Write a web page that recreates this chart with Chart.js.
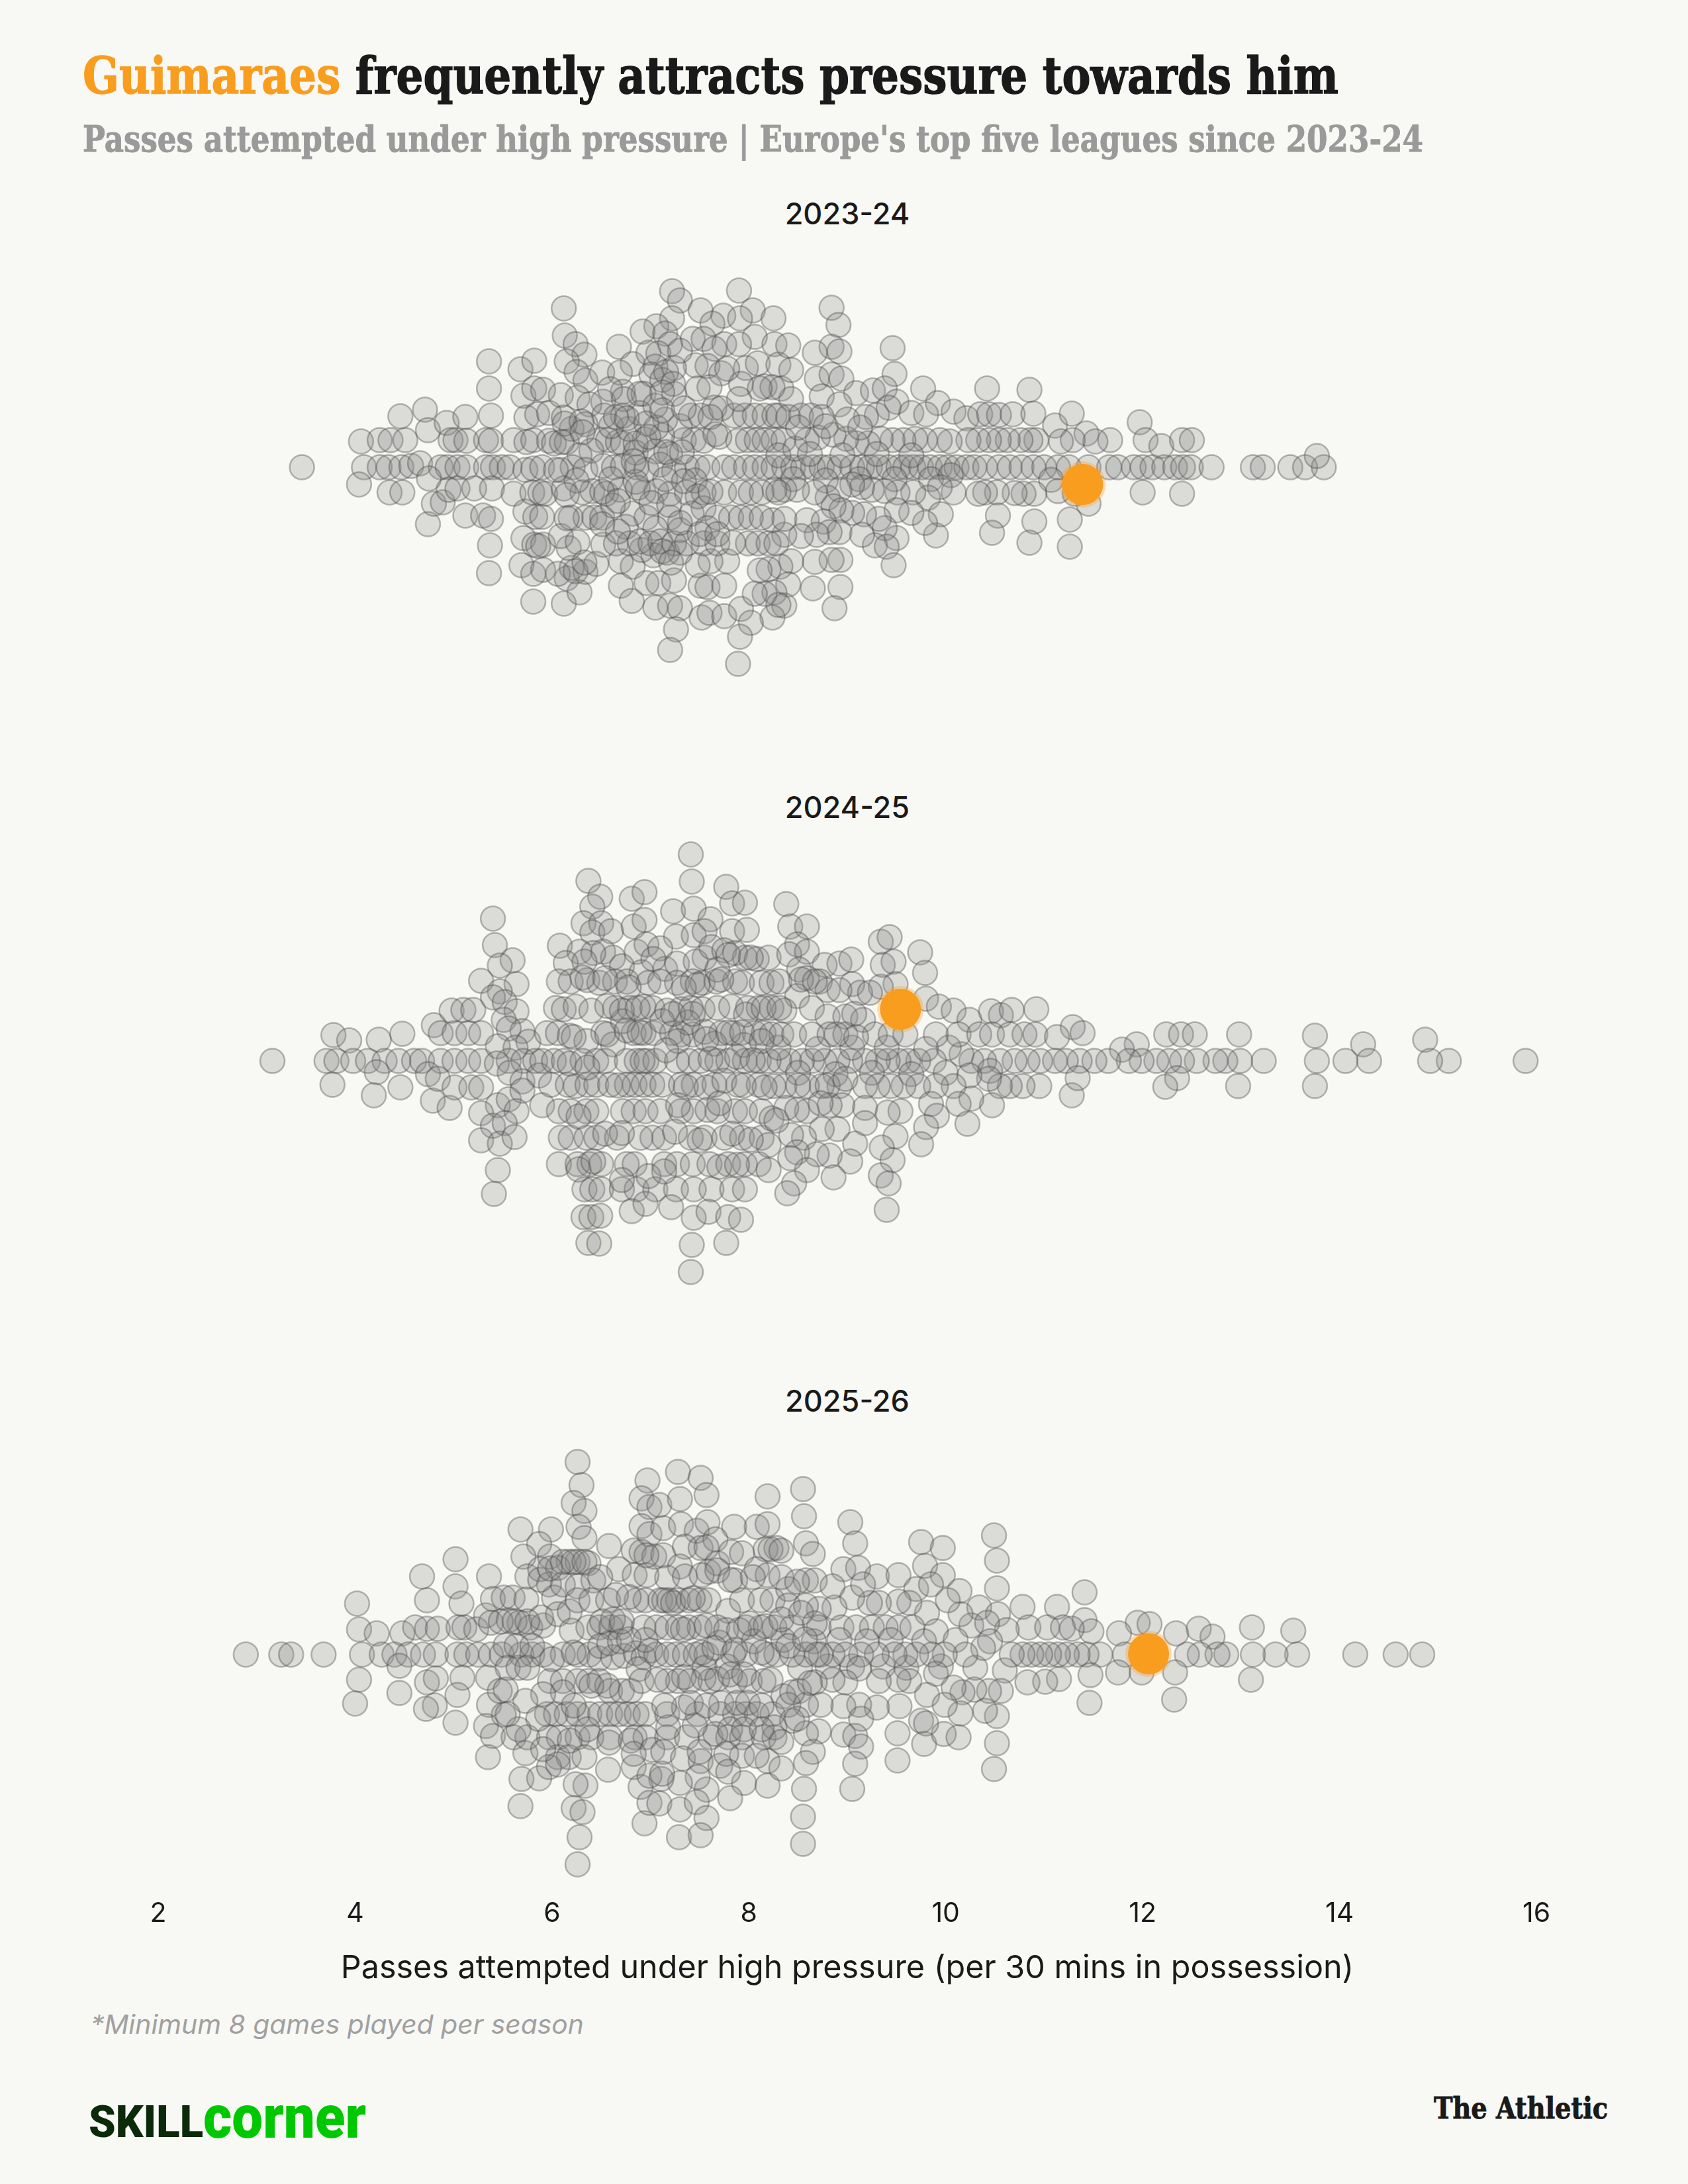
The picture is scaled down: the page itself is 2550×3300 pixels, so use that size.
<!DOCTYPE html>
<html>
<head>
<meta charset="utf-8">
<script src="https://cdn.jsdelivr.net/npm/chart.js@4/dist/chart.umd.js"></script>
<style>
html, body { margin: 0; padding: 0; background: #F8F8F4; }
#page { position: relative; width: 2550px; height: 3300px; overflow: hidden; background: #F8F8F4; }
#page canvas { position: absolute; left: 139px; }
.txt { position: absolute; white-space: nowrap; transform-origin: left top; line-height: 1; }
.season { position: absolute; left: 0; width: 2560px; text-align: center; font: 500 45px Inter, sans-serif; color: #1a1a1a; line-height: 1; }
</style>
</head>
<body>
<div id="page">
  <div class="txt fit" data-w="1897" style="left:125px;top:70px;font:bold 76px 'DejaVu Serif';color:#1a1a1a;-webkit-text-stroke:1.5px #1a1a1a"><span style="color:#F99D1F;-webkit-text-stroke:1.5px #F99D1F">Guimaraes</span> frequently attracts pressure towards him</div>
  <div class="txt fit" data-w="2025" style="left:125px;top:178px;font:bold 54px 'DejaVu Serif';color:#9a9a9a;-webkit-text-stroke:1px #9a9a9a">Passes attempted under high pressure | Europe's top five leagues since 2023-24</div>
  <div class="season" style="top:300px">2023-24</div>
  <div class="season" style="top:1197px">2024-25</div>
  <div class="season" style="top:2094px">2025-26</div>
  <canvas id="swarm2324" style="top:361px"></canvas>
  <canvas id="swarm2425" style="top:1258px"></canvas>
  <canvas id="swarm2526" style="top:2155px"></canvas>
  <div class="txt fit" data-w="745" style="left:137px;top:3035px;font:italic 39px Inter, sans-serif;color:#a0a0a0">*Minimum 8 games played per season</div>
  <div class="txt fit" data-w="173" style="left:134px;top:3167px;font:900 67px Roboto, sans-serif;color:#0a2a0a">SKILL</div>
  <div class="txt fit" data-w="246" style="left:307px;top:3147px;font:900 90px Roboto, sans-serif;color:#00c800">corner</div>
  <div class="txt fit" data-w="263" style="left:2166px;top:3160px;font:bold 44px 'DejaVu Serif';color:#1a1a1a;-webkit-text-stroke:1px #1a1a1a">The Athletic</div>
</div>
<script>
const xTicks = [2, 4, 6, 8, 10, 12, 14, 16];
const axisLabel = 'Passes attempted under high pressure (per 30 mins in possession)';

// Guimaraes in each season: [passes, swarm offset]
const guimaraes2324 = [[11.39, -26]];
const guimaraes2425 = [[9.54, 78]];
const guimaraes2526 = [[12.06, 1]];

// everyone else: [passes, swarm offset]
const players2324 = [
[3.46,0],[4.06,39],[4.09,0],[4.04,-26],[4.25,41],[4.36,41],[4.51,41],[4.46,77],[4.71,87],[4.74,56],[4.93,67],[5.12,76],
[5.36,160],[5.36,119],[5.38,78],[5.68,148],[5.82,161],[5.71,108],[5.82,119],[5.91,117],[5.74,75],[5.85,80],[5.97,82],
[6.12,240],[6.13,199],[6.24,186],[6.33,170],[6.15,160],[6.25,144],[6.34,131],[6.51,143],[6.68,182],[6.82,156],[6.69,143],
[7.22,266],[7.30,252],[7.51,237],[7.90,267],[7.74,229],[8.04,237],[7.91,225],[8.25,225],[7.22,225],[7.06,213],[6.92,205],
[7.15,202],[7.63,217],[7.43,194],[7.54,194],[7.75,186],[8.06,197],[7.90,186],[8.26,186],[7.20,186],[6.98,173],[7.08,172],
[7.65,179],[7.46,154],[7.58,153],[7.24,150],[7.05,152],[7.97,150],[8.09,157],[8.30,155],[7.72,142],[7.01,140],[7.12,132],
[7.48,119],[7.92,126],[8.16,122],[8.33,119],[7.60,121],[7.24,111],[6.93,111],[6.72,114],[6.52,99],[6.09,109],[6.26,105],[6.38,95],
// row +1
[4.97,41],[5.02,41],[5.13,40],[5.33,41],[5.38,40],[5.61,41],[5.74,38],[5.81,41],[5.97,40],[6.02,36],[6.15,38],[6.48,41],[6.57,41],[6.67,38],[6.72,36],
[6.94,42],[7.34,41],[7.44,41],[7.54,40],[7.66,50],[7.89,40],[7.99,41],[8.08,41],[8.16,41],[8.25,41],
[6.85,22],[6.40,25],[6.28,18],[7.05,24],[7.20,20],[7.12,48],[6.78,58],[6.60,62],[6.20,58],[7.30,62],
// row 0
[4.25,0],[4.34,0],[4.47,0],[4.57,2],[4.66,6],[4.87,0],[4.94,0],[5.04,0],[5.13,0],[5.33,0],[5.40,0],[5.49,0],[5.57,0],[5.73,-4],[5.81,-2],[5.90,0],
[6.09,-4],[6.21,0],[6.34,-4],[6.52,2],[6.63,0],[6.72,2],[6.86,0],[6.96,-4],[7.10,4],[7.24,-6],[7.37,0],[7.48,0],[7.58,0],[7.75,0],[7.85,0],[7.97,0],
[8.06,0],[8.16,0],[8.25,0],[8.28,0],[8.36,0],[8.45,0],[8.55,0],[8.65,0],[8.74,0],[8.82,0],[8.92,0],[9.05,0],[9.15,0],[9.23,0],[9.32,0],[9.42,0],[9.52,0],
[9.59,0],[9.67,0],[9.75,0],[9.84,0],[9.94,0],[10.02,0],[10.11,0],[10.21,0],[10.29,0],[10.40,0],[10.54,0],[10.65,0],[10.77,0],[10.89,0],[11.00,0],[11.14,0],
[11.25,0],[11.45,0],[11.66,0],[11.75,0],[11.91,0],[12.00,0],[12.10,0],[12.22,0],[12.33,0],[12.41,0],[12.49,0],[12.70,0],[13.12,0],[13.22,0],[13.50,0],[13.65,0],[13.84,0],[13.77,17],
// row +2 and up on the right
[7.85,78],[7.96,78],[8.06,78],[8.16,78],[8.26,78],[7.41,78],[7.51,78],[7.65,90],[7.15,72],[6.89,82],[6.72,78],[6.53,78],[6.34,65],[6.12,75],[7.06,60],
[8.84,241],[8.91,215],[9.46,180],[9.48,141],[8.84,182],[8.92,175],[8.67,173],[8.26,188],[8.40,184],[8.33,160],[8.43,147],[8.69,134],[8.84,140],[8.94,134],
[9.77,119],[10.42,119],[10.85,117],[9.09,112],[9.26,116],[9.38,119],[9.92,97],[9.50,99],[8.74,107],[8.92,95],[8.43,103],[8.37,121],[8.24,121],[10.08,84],
[9.65,82],[9.80,80],[9.42,90],[9.30,79],[9.19,76],[10.21,74],[10.35,80],[10.44,80],[10.54,79],[10.68,80],[10.89,81],[11.11,63],[11.28,81],[11.97,68],
[12.03,41],[12.19,32],[12.40,41],[12.50,41],[11.67,41],[11.43,51],[11.52,39],[11.29,41],[11.17,39],[10.92,41],[10.86,41],[10.76,41],[10.63,41],[10.54,41],
[10.44,41],[10.33,41],[10.23,41],[10.04,39],[9.94,41],[9.79,41],[9.69,43],[9.57,41],[9.46,41],[9.34,43],[9.21,36],[9.09,36],[8.99,43],[8.86,49],[8.70,45],[8.59,41],[8.47,28],
[8.20,78],[8.30,78],[8.40,76],[8.53,78],[8.63,78],[8.74,76],[8.35,41],[8.28,41],[8.50,60],[8.78,62],[9.00,72],[9.13,60],
[8.30,18],[8.45,-18],[8.62,20],[8.78,-20],[8.95,18],[9.12,-18],[9.30,20],[9.48,-18],[9.65,18],[9.85,-18],[10.05,-12],
// row -1 right
[12.00,-38],[12.40,-40],[11.45,-55],[11.31,-40],[11.07,-19],[11.14,-36],[10.90,-40],[10.79,-40],[10.70,-39],[10.52,-38],[10.40,-38],[10.33,-40],[10.08,-38],
[9.94,-30],[9.82,-46],[9.67,-38],[9.51,-38],[9.38,-36],[9.25,-34],[9.15,-30],[9.05,-26],[8.92,-34],[8.80,-46],[8.67,-38],[8.49,-34],[8.36,-34],[8.26,-34],
[10.53,-73],[10.47,-99],[10.90,-82],[10.85,-114],[11.26,-79],[11.26,-120],[9.90,-103],[9.95,-71],[9.79,-84],[9.65,-69],[9.50,-65],[9.50,-107],[9.38,-92],
[9.28,-118],[9.40,-120],[9.47,-148],[9.32,-78],[9.17,-71],[9.05,-69],[8.94,-65],[8.86,-59],[8.59,-80],[8.76,-82],[8.92,-98],[8.82,-98],[9.15,-102],[8.69,-102],
[8.53,-104],[8.36,-102],[8.24,-80],[8.36,-78],[8.93,-140],[8.84,-140],[8.67,-143],[8.43,-142],[8.32,-150],[8.20,-154],[8.93,-181],[8.65,-183],[8.87,-213],
[8.40,-177],[8.26,-189],[8.36,-209],[8.24,-227],[8.16,-191],
// left and lower part
[4.35,-38],[4.48,-38],[4.74,-86],[4.80,-55],[4.89,-53],[4.75,-17],[4.95,-34],[5.12,-73],[5.30,-73],[5.38,-78],[5.37,-118],[5.36,-160],[5.04,-32],[5.21,-32],
[5.39,-32],[5.61,-40],[5.73,-67],[5.83,-75],[5.90,-75],[5.71,-107],[5.82,-117],[5.91,-117],[5.69,-148],[5.81,-161],[5.91,-155],[5.81,-203],[6.12,-206],
[6.15,-168],[6.28,-189],[6.34,-158],[6.20,-152],[6.45,-146],[6.17,-122],[6.09,-104],[6.26,-113],[6.52,-117],[6.70,-142],[6.70,-179],[6.81,-202],[6.82,-150],
[6.96,-175],[7.08,-175],[7.24,-171],[7.05,-212],[7.20,-209],[7.30,-213],[7.26,-245],[7.20,-276],[7.52,-227],[7.60,-220],[7.75,-225],[7.92,-214],[8.02,-235],
[7.91,-256],[7.89,-297],[8.23,-227],[7.51,-179],[7.58,-181],[7.75,-179],[8.06,-191],[8.13,-196],[8.30,-208],[8.11,-156],[7.78,-142],[7.61,-142],[7.48,-148],
[7.30,-129],[7.17,-129],[7.03,-133],[6.91,-125],
// row -1
[5.80,-38],[5.88,-38],[5.93,-40],[6.12,-32],[6.31,-38],[6.41,-36],[6.55,-40],[6.69,-34],[6.93,-38],[7.06,-36],[7.20,-40],[7.37,-38],[7.54,-38],[7.75,-38],
[7.92,-38],[8.02,-38],[8.13,-38],[8.23,-38],[8.30,-38],[6.25,-20],[6.60,-18],[6.85,-22],[7.15,-18],[7.45,-20],
// row -2
[6.19,-76],[6.34,-76],[6.43,-76],[6.51,-76],[6.82,-70],[6.96,-76],[7.20,-76],[7.54,-62],[7.68,-76],[7.82,-76],[7.92,-76],[8.02,-76],[8.13,-76],[8.23,-76],
[6.62,-58],[6.75,-90],[7.05,-92],[7.30,-95],[7.42,-70],[7.58,-92],
// row -3
[6.65,-115],[6.79,-115],[6.89,-112],[7.00,-115],[7.10,-112],[7.24,-115],[7.37,-115],[7.54,-115],[7.68,-115],[7.99,-115],[8.09,-115],[8.20,-115],[8.28,-115],
// dense centre
[6.97,173],[7.10,173],[7.01,134],[7.16,144],[7.23,126],[7.30,176],[7.44,189],[7.63,179],[7.48,154],[7.75,186],[6.59,118],[6.73,103],[6.89,111],[7.05,93],[7.12,113],[7.25,109],[7.47,116],[7.59,116],
[7.78,149],[7.97,149],[8.11,158],[6.11,104],[6.27,103],[5.85,118],[5.83,81],[5.95,81],[6.13,66],[6.30,69],[6.39,91],[6.51,93],[6.65,76],[6.76,74],[6.96,66],[7.12,86],[7.34,89],[7.54,79],[7.72,89],
[7.90,103],[8.11,119],[8.24,121],[8.43,106],[5.84,36],[5.97,39],[6.10,38],[6.31,53],[6.51,39],[6.67,36],[6.85,36],[6.98,46],[7.12,53],[7.30,66],[7.41,73],[7.61,76],[5.83,-1],[6.04,-4],[6.20,-1],
[6.36,-1],[6.54,36],[6.65,3],[6.83,9],[6.96,-1],[7.16,23],[7.32,23],[7.45,39],[7.57,43],[7.70,46],[5.88,-42],[6.15,-42],[6.33,-44],[6.51,-37],[6.67,-51],[6.87,-31],[7.01,-54],[7.16,-24],[7.34,-21],
[7.48,3],[7.57,3],[5.91,-81],[6.15,-77],[6.33,-81],[6.51,-86],[6.67,-97],[6.85,-71],[7.03,-91],[7.19,-57],[7.30,-84],[7.48,-44],[7.61,-37],[7.68,-74],[5.86,-119],[6.06,-104],[6.27,-114],[6.51,-117],
[6.67,-141],[6.80,-111],[6.94,-124],[7.12,-127],[7.30,-131],[7.50,-101],[7.68,-101],[7.84,-114],[5.84,-156],[6.06,-161],[6.24,-157],[6.33,-144],[6.83,-151],[7.03,-137],[7.21,-144],[7.52,-144],[7.63,-141],[7.77,-141]
];

const players2425 = [
[3.16,0],[3.78,39],[3.94,31],[4.24,32],[4.48,41],[3.71,0],[3.81,0],[3.98,0],[4.13,0],[4.30,0],[4.44,0],[4.60,0],[4.68,0],[4.87,0],[5.01,0],[5.15,0],[5.28,0],
[4.22,-17],[3.77,-36],[4.19,-52],[4.46,-40],[4.74,-20],[4.79,-60],[4.96,-71],[4.84,-27],[5.01,-40],[5.18,-40],[5.28,-40],[4.80,54],[4.87,42],[5.01,42],[5.15,42],
[5.28,42],[4.98,76],[5.10,77],[5.20,77],[5.40,215],[5.42,175],[5.60,152],[5.47,144],[5.28,121],[5.64,116],[5.47,105],[5.40,96],[5.52,89],[5.64,75],[5.51,62],
[5.70,45],[5.56,49],[5.76,29],[5.45,22],[5.63,20],[5.56,0],[5.71,0],[5.83,0],[5.44,-4],[5.57,-18],[5.70,-31],[5.87,-22],[5.45,-67],[5.56,-58],[5.70,-45],[5.64,-76],
[5.28,-79],[5.40,-98],[5.52,-94],[5.28,-120],[5.47,-125],[5.62,-115],[5.45,-165],[5.41,-201],[5.90,-67],
[6.08,174],[6.37,272],[6.49,248],[6.41,233],[6.32,208],[6.50,208],[6.41,194],[6.60,196],[6.81,245],[6.94,255],[6.83,203],[6.94,213],[7.23,226],[7.41,312],[7.42,271],
[7.44,230],[7.61,214],[7.77,263],[7.83,238],[7.96,239],[7.26,188],[7.44,190],[7.55,196],[7.83,196],[7.98,198],[6.28,165],[6.52,165],[6.14,148],[6.62,156],[6.86,165],
[6.96,176],[7.10,170],[6.71,143],[6.91,134],[7.15,139],[7.03,154],[7.27,147],[7.55,156],[7.46,150],[7.62,172],[7.75,167],[7.96,156],[7.86,163],[8.08,154],
// row +3
[6.07,120],[6.19,120],[6.36,122],[6.48,118],[6.64,120],[6.76,120],[6.98,118],[7.27,118],[7.43,120],[7.53,118],[7.67,120],[7.86,120],[7.93,118],[8.13,118],
// row +2
[6.04,80],[6.12,78],[6.24,82],[6.40,76],[6.64,80],[6.79,80],[6.93,82],[7.02,80],[7.17,76],[7.31,78],[7.41,80],[7.53,78],[7.68,80],[7.82,82],[7.99,80],[8.10,80],
// row +1
[5.95,42],[6.06,42],[6.18,38],[6.52,42],[6.83,42],[6.93,42],[7.03,42],[7.22,42],[7.31,40],[7.43,40],[7.55,44],[7.72,42],[7.84,42],[8.06,42],[8.15,42],
[6.35,30],[6.62,25],[6.72,60],[7.12,60],[7.38,58],[7.65,26],[7.95,24],
// row 0
[5.90,0],[6.02,0],[6.12,0],[6.31,0],[6.45,0],[6.54,0],[6.76,0],[6.86,0],[6.96,0],[7.05,0],[7.27,0],[7.39,0],[7.51,0],[7.68,0],[7.79,0],[7.96,0],[8.10,0],
// row -1
[5.99,-36],[6.16,-36],[6.24,-38],[6.36,-36],[6.45,-36],[6.59,-36],[6.76,-36],[6.84,-36],[6.93,-36],[7.02,-36],[7.12,-36],[7.31,-36],[7.44,-36],[7.65,-36],[7.89,-36],[8.10,-36],
// row -2
[6.07,-76],[6.19,-76],[6.35,-76],[6.45,-76],[6.72,-76],[6.83,-76],[6.95,-76],[7.10,-76],[7.31,-76],[7.44,-76],[7.68,-76],[7.86,-76],[7.96,-76],[8.13,-76],
// row -3
[6.09,-116],[6.19,-116],[6.35,-116],[6.45,-116],[6.66,-116],[6.90,-116],[7.02,-116],[7.14,-116],[7.41,-116],[7.55,-116],[7.75,-116],[7.93,-116],[8.13,-116],
// row -4
[6.07,-156],[6.26,-156],[6.38,-156],[6.50,-156],[6.76,-156],[6.84,-156],[7.14,-156],[7.27,-156],[7.43,-156],[7.60,-156],[7.79,-156],[7.96,-156],[8.10,-156],
// row -5
[6.33,-194],[6.41,-194],[6.50,-194],[6.71,-194],[6.86,-194],[7.05,-194],[7.26,-194],[7.44,-194],[7.62,-194],[7.83,-194],[7.96,-194],
[6.81,-227],[6.95,-216],[7.21,-221],[7.44,-237],[7.59,-228],[7.79,-236],[7.92,-240],[6.32,-236],[6.40,-236],[6.49,-234],[6.37,-275],[6.48,-276],[7.42,-278],[7.77,-275],[7.41,-319],
// right half
[8.38,237],[8.42,203],[8.59,203],[8.49,176],[9.34,180],[9.43,187],[9.74,164],[9.79,133],[9.36,145],[9.47,150],[8.20,156],[8.41,161],[8.59,165],[8.77,145],[8.92,147],
[9.04,153],[9.49,116],[9.34,112],[9.80,94],[9.05,116],[8.51,138],[8.59,125],[8.72,120],[8.23,118],[8.80,107],[9.13,103],[9.23,103],[8.92,107],[8.49,98],[8.64,80],
[8.80,67],[8.98,67],[9.16,62],[8.23,80],[8.36,76],[9.93,82],[10.08,76],[10.24,62],[10.46,75],[10.56,69],[10.67,77],[10.92,78],[11.29,51],[11.39,42],[11.94,25],[11.79,17],
[12.24,40],[12.39,40],[12.53,40],[12.98,40],[13.75,38],[14.24,25],[14.87,32],
[15.89,0],[15.11,0],[14.92,0],[14.30,0],[14.06,0],[13.77,0],[13.23,0],[12.99,0],[12.84,0],[12.74,0],[12.55,0],[12.40,0],[12.27,0],[12.14,0],[11.99,0],[11.86,0],[11.65,0],
[11.51,0],[11.36,0],[11.22,0],[11.11,0],[10.96,0],[10.83,0],[10.70,0],[10.55,0],[10.39,0],[10.26,0],[10.16,10],[10.03,20],[9.88,0],[9.72,0],[9.62,0],[9.52,0],[9.41,0],
[9.31,0],[9.18,0],[9.03,0],[8.90,0],[8.77,0],[8.64,0],[8.54,0],[8.41,0],[8.31,0],[8.20,0],
[8.30,20],[8.50,-18],[8.70,18],[8.88,-20],[9.05,20],[9.25,-18],[9.40,20],[9.65,-20],[9.80,18],[10.00,-18],[10.45,-15],
[8.23,40],[8.33,40],[8.46,40],[8.64,40],[8.82,40],[8.98,40],[9.28,40],[9.44,40],[9.59,40],[9.90,40],[10.13,40],[10.34,40],[10.47,40],[10.65,40],[10.80,40],[10.91,40],[11.13,36],
[13.75,-38],[12.97,-38],[12.35,-26],[12.23,-39],[11.28,-52],[11.34,-26],[10.95,-38],[10.78,-38],[10.65,-38],[10.55,-38],[10.44,-27],[10.24,-22],[10.08,-38],[9.90,-38],[9.72,-38],
[9.57,-38],[9.44,-38],[9.31,-38],[9.18,-38],[8.92,-38],[8.74,-38],[8.59,-38],[8.36,-38],[8.25,-38],
[10.47,-67],[10.26,-57],[10.13,-65],[10.22,-95],[9.85,-65],[9.91,-83],[9.80,-100],[9.54,-76],[9.41,-78],[9.18,-71],[8.95,-67],[8.82,-67],[8.59,-76],[8.38,-71],[8.23,-87],
[9.75,-126],[9.49,-114],[9.35,-131],[9.46,-150],[9.08,-125],[9.18,-94],[8.90,-103],[8.74,-103],[8.56,-116],[8.20,-127],[8.43,-112],[9.03,-152],[8.82,-143],[8.69,-141],[8.49,-138],
[8.59,-165],[8.20,-165],[8.86,-176],[9.34,-173],[9.42,-185],[9.40,-225],[8.46,-185],[8.39,-200],
// dense centre
[6.28,168],[6.42,163],[6.63,160],[6.85,166],[7.11,168],[7.26,186],[7.54,190],[7.79,160],[8.02,156],[8.17,155],[8.42,160],[8.58,163],[8.78,143],[8.91,148],[6.33,150],[6.71,140],[7.16,140],[7.44,148],[7.68,138],
[6.20,115],[6.31,126],[6.54,125],[6.78,111],[6.96,116],[7.10,120],[7.34,110],[7.48,115],[7.72,123],[8.31,120],[8.53,123],[8.67,120],[8.91,105],[9.11,100],
[6.03,83],[6.41,70],[6.56,83],[6.71,76],[6.87,80],[7.23,71],[7.43,71],[7.97,70],[8.15,80],[8.31,80],[8.51,93],[8.67,76],[8.82,63],[9.07,71],
[6.22,36],[6.38,26],[6.56,40],[6.76,46],[6.89,43],[7.05,41],[7.28,30],[7.57,33],[7.79,43],[7.93,43],[8.13,30],[8.31,40],[8.44,40],[8.67,40],[8.89,40],[9.09,36],
[5.84,0],[6.00,1],[6.18,-4],[6.36,-10],[6.51,6],[6.92,0],[7.16,16],[7.48,-4],[7.61,3],[7.88,6],[8.04,1],[8.28,1],[8.44,1],
[6.24,-39],[6.42,-39],[6.67,-37],[6.98,-35],[7.36,-39],[7.57,-40],[7.75,-30],[7.95,-37],[8.16,-40],[8.37,-34],[8.50,-37],[8.80,-37],[8.98,-27],
[5.91,-67],[6.27,-84],[6.45,-77],[6.74,-74],[6.92,-75],[7.07,-80],[7.28,-67],[7.58,-74],[7.70,-64],[7.99,-77],[8.28,-90],[8.49,-74],[8.73,-64],[8.91,-64],
[6.36,-114],[6.54,-110],[6.71,-109],[6.89,-114],[7.25,-107],[7.50,-120],[7.83,-110],[8.02,-119],[8.17,-122],[8.42,-107],[8.73,-104],[8.89,-100],
[6.27,-164],[6.42,-152],[6.78,-150],[6.98,-174],[7.14,-167],[7.45,-154],[7.70,-160],[7.88,-157],[8.19,-165],[8.42,-147],[8.71,-140],[9.02,-149],[8.87,-175],
[6.51,-194],[6.71,-180],[7.25,-189],[7.62,-189],[8.40,-197],[8.47,-185]
];

const players2526 = [
[2.89,0],[3.25,0],[3.35,0],[3.68,0],[4.02,77],[4.04,38],[4.22,32],[4.07,0],[4.27,0],[4.04,-38],[4.00,-74],[4.48,32],[4.61,41],[4.73,39],[4.84,39],[5.05,41],[5.11,41],[5.23,38],
[4.68,118],[4.73,82],[5.02,144],[5.02,103],[5.08,77],[5.36,118],[4.40,0],[4.54,0],[4.69,0],[4.82,0],[5.04,0],[5.13,0],[5.25,0],[5.38,0],[5.49,0],[5.69,0],[5.80,0],[5.91,0],
[4.45,-17],[4.45,-58],[4.73,-42],[4.82,-36],[5.09,-35],[5.04,-61],[4.81,-77],[4.72,-82],[5.02,-103],[5.35,-35],[5.36,-76],[5.47,-55],[5.51,-91],[5.33,-108],[5.40,-123],[5.61,-125],
[5.35,-155],[5.73,-149],[5.69,-188],[5.68,-229],[5.87,-187],[5.33,59],[5.40,84],[5.51,86],[5.60,86],[5.74,83],[5.38,48],[5.56,52],[5.67,48],[5.78,41],[5.91,44],[5.53,14],
[5.68,189],[5.99,189],[5.87,167],[5.71,148],[5.98,148],[5.75,118],[5.88,129],[5.97,106],[6.02,86],[5.89,56],[6.06,61],[6.18,65],[6.26,291],[6.30,256],[6.22,229],[6.33,217],[6.27,193],
[6.33,176],[6.17,140],[6.26,140],[6.37,138],[6.06,131],[6.11,106],[6.26,103],[6.42,112],[6.58,164],[6.83,157],[6.97,263],[6.91,236],[6.99,223],[7.09,226],[7.28,276],[7.51,267],[7.57,241],
[7.30,235],[6.91,194],[6.99,182],[7.13,191],[7.31,197],[7.47,187],[7.58,200],[8.19,239],[7.85,193],[8.08,193],[8.19,197],[7.35,163],[7.51,161],[7.66,174],[6.91,155],[7.04,148],[7.13,150],
[6.68,129],[6.84,120],[7.30,133],[7.17,116],[7.35,118],[7.59,125],[7.68,138],[7.82,155],[7.93,153],[8.17,159],[8.28,161],[8.08,129],[8.19,120],[7.86,112],
// row +2
[6.26,82],[6.40,82],[6.57,82],[6.86,82],[6.95,82],[7.10,82],[7.19,82],[7.28,82],[7.39,82],[7.50,82],[7.59,82],[7.79,66],[7.93,82],[8.12,82],[8.24,82],
// row +1
[6.20,36],[6.37,41],[6.48,41],[6.60,41],[6.70,41],[6.93,41],[7.06,41],[7.17,41],[7.28,41],[7.39,41],[7.50,41],[7.68,41],[7.97,41],[8.12,41],[8.26,41],
// row 0 and either side
[6.11,0],[6.26,0],[6.38,0],[6.48,-6],[6.62,-4],[6.73,-2],[6.85,2],[6.93,-4],[7.00,6],[7.06,0],[7.17,0],[7.26,0],[7.35,0],[7.46,0],[7.57,0],[7.84,0],[7.97,0],[8.19,0],[8.28,0],
[6.88,-22],[6.95,22],[7.70,18],[7.78,-18],[7.55,-20],[8.05,20],
// row -1
[5.98,-40],[6.11,-40],[6.26,-40],[6.37,-40],[6.48,-40],[6.59,-55],[6.71,-55],[6.80,-55],[6.91,-40],[7.17,-40],[7.28,-40],[7.40,-40],[7.61,-40],[7.86,-40],[8.01,-40],[8.15,-40],
// row -2
[5.95,-90],[6.04,-90],[6.15,-90],[6.26,-90],[6.38,-90],[6.49,-90],[6.59,-90],[6.68,-90],[6.77,-90],[6.86,-90],[6.95,-90],[7.17,-90],[7.48,-90],[7.71,-90],[7.86,-90],[7.97,-90],[8.08,-90],[8.24,-90],
// row -3
[5.75,-125],[5.97,-125],[6.07,-125],[6.26,-125],[6.40,-125],[6.59,-125],[6.84,-125],[6.95,-125],[7.17,-125],[7.37,-125],[7.61,-125],[7.79,-125],[7.93,-125],[8.15,-125],[8.26,-125],
// lower edge
[6.06,-155],[6.17,-155],[6.33,-155],[6.57,-174],[6.83,-170],[7.02,-144],[7.13,-147],[7.33,-157],[7.51,-161],[7.71,-168],[7.93,-153],[8.19,-161],[7.95,-194],[8.19,-198],[7.81,-217],[7.57,-204],
[7.48,-185],[7.30,-194],[7.11,-188],[6.90,-200],[6.99,-183],[6.34,-198],[6.24,-196],[6.22,-232],[6.31,-238],[6.28,-276],[6.26,-317],[6.94,-255],[6.99,-224],[7.09,-225],[7.30,-234],[7.47,-223],
[7.57,-247],[7.29,-276],[7.51,-273],[5.97,-170],[6.06,-166],
// right half
[8.55,250],[8.56,209],[8.58,168],[8.65,152],[9.03,200],[9.08,168],[9.75,170],[9.97,161],[9.79,134],[9.97,120],[10.49,180],[10.52,142],[10.52,100],[8.96,129],[9.11,131],[9.30,118],[9.52,120],
[8.22,159],[8.33,157],[9.70,99],[9.85,106],[10.14,96],[11.41,94],[10.78,72],[11.13,72],[10.34,71],[10.53,61],[11.41,52],[11.48,35],[11.95,48],[12.07,46],[11.76,32],[12.34,32],[12.57,39],
[12.71,27],[13.11,41],[13.53,36],[10.84,41],[11.03,41],[11.19,41],[11.28,39],[10.62,37],[10.26,44],[10.42,48],[10.15,61],[10.02,82],[9.81,63],[9.90,35],[9.63,78],[9.52,80],[9.32,78],[9.23,78],
[9.05,86],[8.87,71],[8.71,69],[8.58,112],[8.40,99],[8.67,112],[8.85,103],[9.16,106],[8.24,78],[8.40,74],[8.58,74],
[8.26,41],[8.44,41],[8.71,41],[8.94,41],[9.09,41],[9.25,41],[9.39,41],[9.52,41],[9.66,41],
[8.35,22],[8.52,-20],[8.66,20],[8.80,-18],[8.92,22],[9.05,-18],[9.20,20],[9.36,-18],[9.44,22],[9.60,-20],[9.78,20],[9.95,-18],[10.10,22],[10.30,-20],[10.45,20],[10.60,-24],
[14.84,0],[14.57,0],[14.16,0],[13.57,0],[13.35,0],[13.12,0],[12.85,0],[12.76,0],[12.58,0],[12.45,0],[11.82,0],[11.57,0],[11.43,0],[11.34,0],[11.23,0],[11.14,0],[11.05,0],[10.96,0],[10.87,0],
[10.78,0],[10.67,0],[10.38,10],[10.20,0],[9.99,0],[9.86,0],[9.70,0],[9.59,0],[9.48,0],[9.30,0],[9.14,0],[8.98,0],[8.85,0],[8.73,0],[8.58,0],[8.44,0],[8.31,0],[8.19,0],
[13.10,-38],[12.32,-68],[12.33,-27],[11.99,-27],[11.75,-27],[11.47,-31],[11.46,-73],[11.15,-37],[11.01,-41],[10.83,-42],[10.56,-18],[10.56,-55],[10.44,-55],[10.29,-53],[10.17,-57],[10.08,-50],
[9.90,-29],[9.81,-61],[9.63,-40],[9.52,-38],[9.32,-40],[9.12,-21],[8.98,-42],[8.85,-38],[8.67,-42],[8.51,-55],[8.35,-63],[8.22,-38],[10.52,-93],[10.40,-85],[10.15,-89],[9.99,-76],[9.75,-100],
[9.53,-78],[9.30,-80],[9.12,-76],[8.96,-78],[8.73,-76],[8.58,-76],[8.40,-76],[9.14,-97],[8.44,-100],[8.26,-110],[8.71,-116],[8.58,-119],[8.96,-121],[9.08,-123],[9.14,-139],[9.51,-119],[9.78,-135],
[9.98,-120],[10.13,-125],[9.80,-104],[10.52,-134],[10.49,-173],[9.51,-160],[9.08,-165],[8.65,-147],[8.58,-164],[8.33,-172],[8.33,-132],[8.19,-162],[8.19,-200],[8.56,-203],[9.05,-203],[8.55,-245],[8.55,-286],
// dense centre
[7.14,82],[7.23,78],[7.30,85],[7.36,80],[7.43,85],[7.50,78],[7.57,84],[7.14,42],[7.25,46],[7.33,38],[7.41,45],[7.49,38],[7.57,44],[7.07,2],[7.16,5],[7.25,-3],[7.34,4],[7.43,-3],[7.52,3],
[7.07,-38],[7.16,-34],[7.25,-38],[7.34,-34],[7.43,-38],[7.54,-36],[5.50,87],[5.62,87],[5.75,87],[5.48,50],[5.62,50],[5.75,50],[5.91,50],[5.50,13],[5.64,13],[5.80,13],[5.89,0],[6.00,-7],[5.55,-20],[5.66,-20],[5.75,-20],
[6.22,3],[6.36,0],[6.11,3],[6.49,13],[6.58,17],[6.69,20],[6.78,23],[6.22,40],[6.38,47],[6.51,50],[6.62,53],[6.71,50],[6.09,63],[6.27,77],[6.40,80],[6.56,87],[6.65,90],[6.78,87],
[5.88,113],[5.98,130],[6.11,140],[6.22,140],[6.33,140],[6.42,113],[6.11,103],[6.24,103],[6.49,117],[6.65,123],[6.83,123],[6.96,120],[7.18,120],[7.34,120],[7.52,120],[7.68,127],
[6.96,150],[7.07,147],[7.30,133],[7.36,160],[7.57,162],[7.95,153],[8.24,163],[8.33,157],[7.77,63],[7.92,77],[8.08,80],[7.81,113],[8.04,117],[8.17,117],[8.33,117],[8.49,110],[8.67,113],
[7.77,37],[7.90,37],[8.01,47],[8.17,43],[8.33,53],[8.53,63],[8.67,47],[7.65,10],[7.86,7],[8.00,3],[8.13,3],[8.26,0],[8.40,13],[8.57,23],[8.69,0],
[7.68,-37],[7.81,-30],[7.95,-30],[8.13,-37],[8.26,-40],[8.44,-57],[8.62,-43],[8.71,-73],[7.72,-73],[7.88,-73],[7.99,-73],[8.13,-77],[8.28,-90],[8.49,-97],[8.69,-117],
[7.66,-120],[7.81,-113],[7.95,-113],[8.13,-113],[8.33,-130],[8.55,-123],[7.34,-120],[7.18,-110],[7.45,-107],[7.34,-80],[7.14,-77],[7.41,-73],[7.57,-77],
[6.56,-47],[6.71,-53],[6.83,-50],[6.40,-47],[6.24,-40],[6.11,-57],[5.91,-60],[5.73,-70],[5.53,-53],[6.22,-77],[6.40,-90],[6.51,-95],[6.65,-92],[6.78,-92],[6.92,-93],[6.02,-90],[5.86,-97],[5.66,-113],[5.55,-90],
[5.59,-127],[6.00,-130],[6.18,-130],[6.36,-113],[6.58,-133],[6.80,-130],[6.96,-127],[5.73,-150],[5.91,-143],[6.06,-167],[6.31,-157],[6.56,-173],[6.83,-150],[7.03,-143],[7.14,-143],[7.34,-157],[7.50,-147],[7.77,-150],[7.92,-150],[8.08,-153],[8.33,-173],[8.64,-147],[8.57,-163],
[5.87,-183],[6.33,-197],[6.89,-200],[7.01,-183],[7.12,-180],[7.30,-190],[7.48,-183],[7.57,-200],[7.79,-177],[7.92,-193],[8.15,-193]
];

// squeeze the stand-in fonts to the widths of the originals
document.querySelectorAll('.fit').forEach(function(el) {
    const natural = el.getBoundingClientRect().width;
    el.style.transform = 'scaleX(' + (Number(el.dataset.w) / natural) + ')';
});

function toXY(list) {
    return list.map(function(p) { return { x: p[0], y: p[1] }; });
}

// the same circle got read twice from overlapping crops; keep the first reading
function dropRepeats(list) {
    const kept = [];
    list.forEach(function(p) {
        const repeat = kept.some(function(q) {
            return Math.abs(q[0] - p[0]) < 0.04 && Math.abs(q[1] - p[1]) < 7;
        });
        if (!repeat) kept.push(p);
    });
    return kept;
}

function drawSwarm(canvasId, players, guimaraes, showAxis) {
    const canvas = document.getElementById(canvasId);
    canvas.width = 2282;
    canvas.height = showAxis ? 880 : 690;
    const chart = new Chart(canvas.getContext('2d'), {
        type: 'scatter',
        data: {
            datasets: [{
                // first dataset is painted last
                data: toXY(guimaraes),
                pointRadius: 31,
                pointBackgroundColor: '#F99D1F',
                pointBorderWidth: 0,
                clip: false
            }, {
                data: toXY(guimaraes),
                pointRadius: 35,
                pointBackgroundColor: 'rgba(249,157,31,0.3)',
                pointBorderWidth: 0,
                clip: false
            }, {
                data: toXY(dropRepeats(players)),
                pointRadius: 18.5,
                pointBackgroundColor: 'rgba(130,130,130,0.25)',
                pointBorderColor: 'rgba(70,70,70,0.38)',
                pointBorderWidth: 2.5,
                clip: false
            }]
        },
        options: {
            responsive: false,
            maintainAspectRatio: false,
            animation: false,
            devicePixelRatio: 1,
            layout: { autoPadding: false, padding: { left: 100, right: 100, top: 0, bottom: 0 } },
            plugins: { legend: { display: false }, tooltip: { enabled: false }, title: { display: false } },
            scales: {
                x: {
                    type: 'linear',
                    display: showAxis,
                    min: xTicks[0],
                    max: xTicks[xTicks.length - 1],
                    grid: { display: false },
                    border: { display: false },
                    afterBuildTicks: function(axis) {
                        axis.ticks = xTicks.map(function(v) { return { value: v }; });
                    },
                    ticks: {
                        maxRotation: 0,
                        autoSkip: false,
                        padding: 14,
                        color: '#1a1a1a',
                        font: { family: 'Inter', size: 41 }
                    },
                    title: {
                        display: true,
                        text: axisLabel,
                        color: '#1a1a1a',
                        font: { family: 'Inter', size: 48.5 },
                        padding: { top: 15, bottom: 4 }
                    }
                },
                y: { display: false, min: -345, max: 345 }
            }
        }
    });
    // keep one offset unit at one pixel whatever the axis needs below the plot
    const below = chart.height - chart.chartArea.height;
    chart.resize(2282, 690 + below);
}

drawSwarm('swarm2324', players2324, guimaraes2324, false);
drawSwarm('swarm2425', players2425, guimaraes2425, false);
drawSwarm('swarm2526', players2526, guimaraes2526, true);
</script>
</body>
</html>
